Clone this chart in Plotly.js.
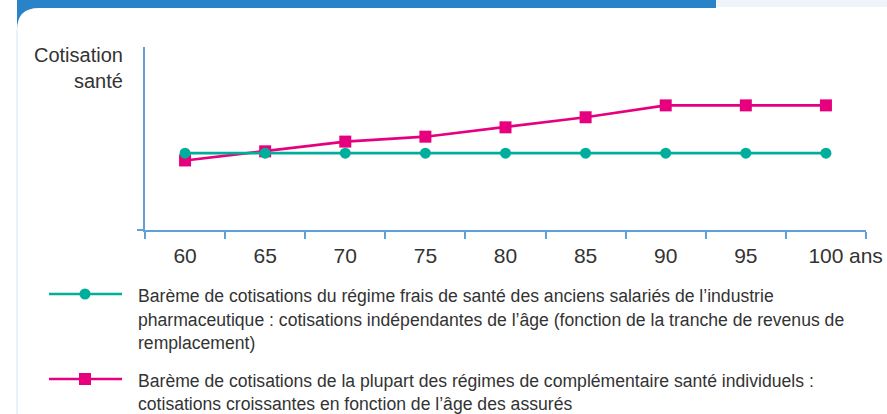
<!DOCTYPE html>
<html>
<head>
<meta charset="utf-8">
<script src="https://cdn.plot.ly/plotly-3.0.1.min.js"></script>
<style>
  html, body { margin: 0; padding: 0; background: #ffffff; }
  #chart { width: 887px; height: 414px; }
</style>
</head>
<body>
<div id="chart"></div>
<script>
// ---- data ----
const ages = ["60", "65", "70", "75", "80", "85", "90", "95", "100"];
const tealValues = [42, 42, 42, 42, 42, 42, 42, 42, 42];
const pinkValues = [38, 43, 48.3, 51, 56.1, 61.6, 68.1, 68.1, 68.1];
const yTitleLines = ["Cotisation", "santé"];
const xUnit = "ans";
const tealLegendLines = [
  "Barème de cotisations du régime frais de santé des anciens salariés de l’industrie",
  "pharmaceutique : cotisations indépendantes de l’âge (fonction de la tranche de revenus de",
  "remplacement)"
];
const pinkLegendLines = [
  "Barème de cotisations de la plupart des régimes de complémentaire santé individuels :",
  "cotisations croissantes en fonction de l’âge des assurés"
];

// ---- styles ----
const W = 887, H = 414;
const M = { l: 145, r: 21, t: 47, b: 184 };
const PW = W - M.l - M.r, PH = H - M.t - M.b;
const px = v => (v - M.l) / PW;           // page x -> paper x
const py = v => (H - M.b - v) / PH;       // page y -> paper y
const TEAL = "#00ae9b";
const PINK = "#e6007e";
const AXIS = "#5fa0da";
const BLUE = "#2a82c8";
const TEXT = "#333333";
const FONT = "Liberation Sans, Arial, sans-serif";

const traces = [
  {
    x: ages, y: pinkValues, type: "scatter", mode: "lines+markers",
    line: { color: PINK, width: 2.6 },
    marker: { symbol: "square", size: 12, color: PINK },
    showlegend: false, hoverinfo: "skip"
  },
  {
    x: ages, y: tealValues, type: "scatter", mode: "lines+markers",
    line: { color: TEAL, width: 2.6 },
    marker: { symbol: "circle", size: 11, color: TEAL },
    showlegend: false, hoverinfo: "skip"
  }
];

// decorative page shapes
const shapes = [
  { type: "rect", xref: "paper", yref: "paper", x0: px(17), x1: px(716), y0: py(0), y1: py(8),
    fillcolor: BLUE, line: { width: 0 }, layer: "below" },
  { type: "path", xref: "paper", yref: "paper",
    path: `M ${px(17)} ${py(8)} L ${px(17)} ${py(30)} Q ${px(17)} ${py(8)} ${px(39)} ${py(8)} Z`,
    fillcolor: BLUE, line: { width: 0 }, layer: "below" },
  { type: "rect", xref: "paper", yref: "paper", x0: px(716), x1: px(887), y0: py(0), y1: py(7),
    fillcolor: "#eef4f9", line: { width: 0 }, layer: "below" },
  { type: "line", xref: "paper", yref: "paper", x0: px(17), x1: px(17), y0: py(30), y1: py(414),
    line: { color: "#e8f0f8", width: 2 }, layer: "below" },
  // legend symbols
  { type: "line", xref: "paper", yref: "paper", x0: px(49), x1: px(122), y0: py(294), y1: py(294),
    line: { color: TEAL, width: 2.6 } },
  { type: "circle", xref: "paper", yref: "paper", x0: px(79.5), x1: px(90.5), y0: py(288.5), y1: py(299.5),
    fillcolor: TEAL, line: { width: 0 } },
  { type: "line", xref: "paper", yref: "paper", x0: px(49), x1: px(122), y0: py(379), y1: py(379),
    line: { color: PINK, width: 2.6 } },
  { type: "rect", xref: "paper", yref: "paper", x0: px(79), x1: px(91), y0: py(373), y1: py(385),
    fillcolor: PINK, line: { width: 0 } }
];

const annotations = [];
annotations.push({
  xref: "paper", yref: "paper", x: px(125), y: py(42), xanchor: "right", yanchor: "top",
  align: "right", showarrow: false, text: yTitleLines.join("<br>"),
  font: { family: FONT, size: 20, color: TEXT }
});
annotations.push({
  xref: "paper", yref: "paper", x: px(847), y: py(255), xanchor: "left", yanchor: "middle",
  showarrow: false, text: xUnit, font: { family: FONT, size: 21, color: TEXT }
});
const tealYs = [296, 320, 343];
tealLegendLines.forEach((t, i) => annotations.push({
  xref: "paper", yref: "paper", x: px(136), y: py(tealYs[i]), xanchor: "left", yanchor: "middle",
  showarrow: false, text: t, font: { family: FONT, size: 17.6, color: TEXT }
}));
const pinkYs = [381, 404];
pinkLegendLines.forEach((t, i) => annotations.push({
  xref: "paper", yref: "paper", x: px(136), y: py(pinkYs[i]), xanchor: "left", yanchor: "middle",
  showarrow: false, text: t, font: { family: FONT, size: 17.6, color: TEXT }
}));

const layout = {
  width: W, height: H,
  margin: M,
  paper_bgcolor: "#ffffff",
  plot_bgcolor: "rgba(0,0,0,0)",
  showlegend: false,
  font: { family: FONT, color: TEXT },
  xaxis: {
    type: "category", categoryarray: ages, categoryorder: "array",
    range: [-0.5, 8.5], tickson: "boundaries",
    ticks: "outside", ticklen: 7, tickwidth: 2, tickcolor: AXIS,
    showline: true, linecolor: AXIS, linewidth: 2,
    showgrid: false, zeroline: false,
    tickfont: { family: FONT, size: 21, color: TEXT },
    ticklabelstandoff: 6, fixedrange: true
  },
  yaxis: {
    range: [0, 100], tickvals: [0], showticklabels: false,
    ticks: "outside", ticklen: 6, tickwidth: 2, tickcolor: AXIS,
    showline: true, linecolor: AXIS, linewidth: 2,
    showgrid: false, zeroline: false, fixedrange: true
  },
  shapes: shapes,
  annotations: annotations
};

Plotly.newPlot("chart", traces, layout, { displayModeBar: false, staticPlot: true });
</script>
</body>
</html>
